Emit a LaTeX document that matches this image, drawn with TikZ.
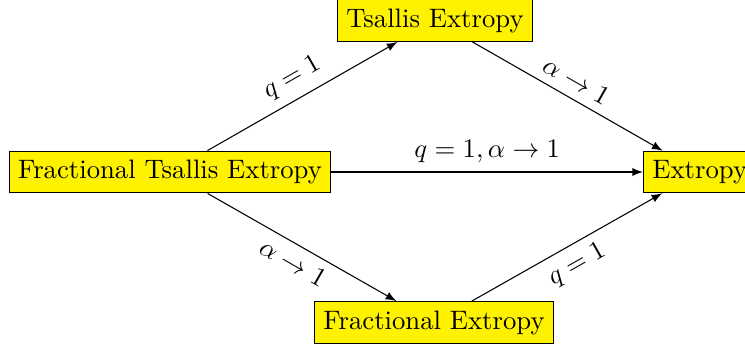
\documentclass[tikz,border=0pt]{standalone}
\usetikzlibrary{arrows}
\begin{document}
\begin{tikzpicture}[x=0.3745pt,y=-0.3745pt,
  box/.style={draw=black,fill=yellow,inner sep=3.33pt},
  conn/.style={-latex,black}]
\useasboundingbox (0,0) rectangle (745,346);
\node[box] (fte) at (170,172) {Fractional Tsallis Extropy};
\node[box] (te) at (435,20.5) {Tsallis Extropy};
\node[box] (fe) at (434,322.5) {Fractional Extropy};
\node[box,anchor=west] (e) at (643,172) {Extropy};
\draw[conn] (fte) -- node[sloped,above] {$q=1$} (te);
\draw[conn] (te) -- node[sloped,above] {$\alpha\to 1$} (e);
\draw[conn] (fte) -- node[above] {$q=1,\alpha\to 1$} (e);
\draw[conn] (fte) -- node[sloped,below] {$\alpha\to 1$} (fe);
\draw[conn] (fe) -- node[sloped,below] {$q=1$} (e);
\end{tikzpicture}
\end{document}
